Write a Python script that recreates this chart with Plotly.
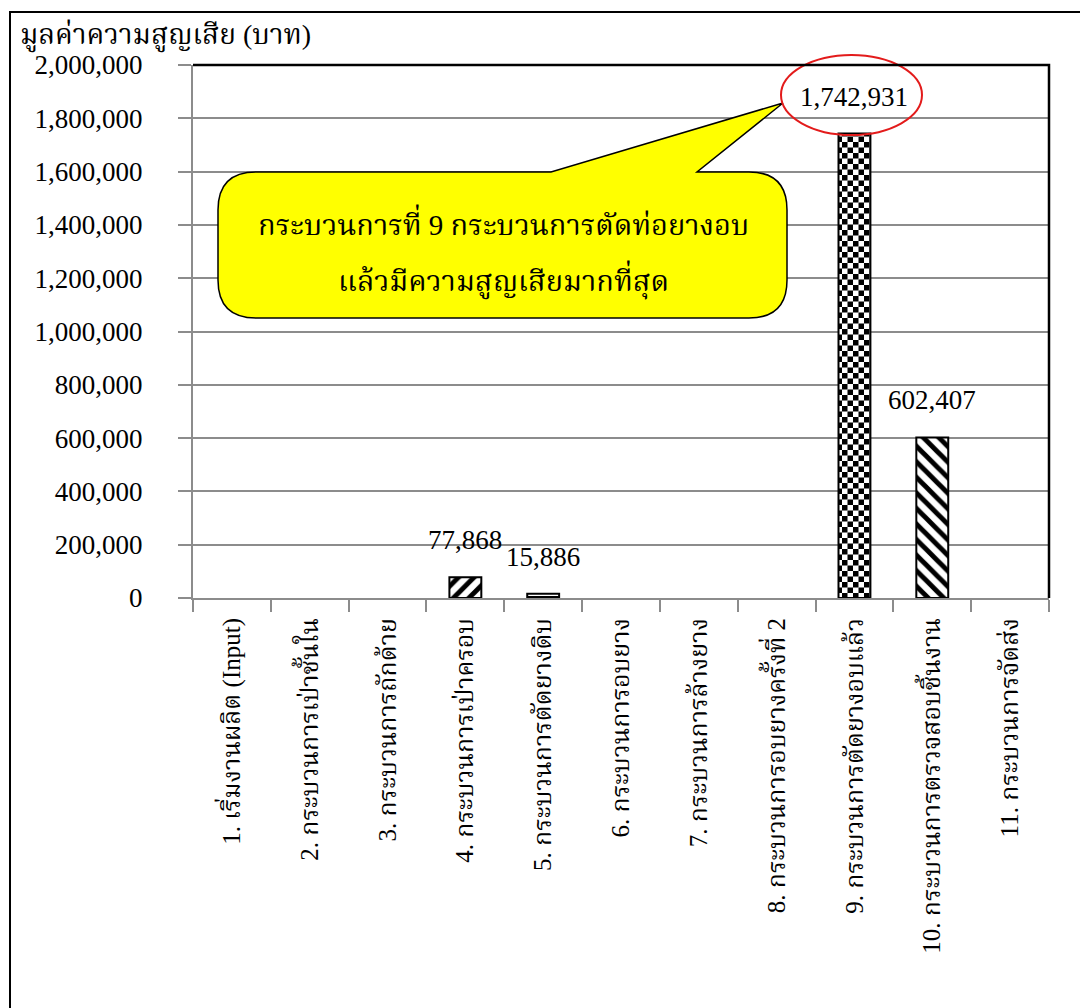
import plotly.graph_objects as go

# Loss value per production step (baht)
categories = [
    "1. เริ่มงานผลิต (Input)",
    "2. กระบวนการเป่าชั้นใน",
    "3. กระบวนการถักด้าย",
    "4. กระบวนการเป่าครอบ",
    "5. กระบวนการตัดยางดิบ",
    "6. กระบวนการอบยาง",
    "7. กระบวนการล้างยาง",
    "8. กระบวนการอบยางครั้งที่ 2",
    "9. กระบวนการตัดยางอบแล้ว",
    "10. กระบวนการตรวจสอบชิ้นงาน",
    "11. กระบวนการจัดส่ง",
]
loss_values = [0, 0, 0, 77868, 15886, 0, 0, 0, 1742931, 602407, 0]
# fill texture of each bar ("checker" is built in the page script below)
bar_patterns = ["", "", "", "/", "-", "", "", "", "checker", "\\", ""]

y_ticks = list(range(0, 2000001, 200000))
y_title = "มูลค่าความสูญเสีย (บาท)"
callout_lines = ["กระบวนการที่ 9 กระบวนการตัดท่อยางอบ", "แล้วมีความสูญเสียมากที่สุด"]

W, H = 1080, 1008
ML, MR, MT, MB = 193, 31, 65, 410
PW, PH = W - ML - MR, H - MT - MB

SERIF = "Liberation Serif, Times New Roman, Noto Serif Thai, Norasi, serif"
GRID = "#8c8c8c"


def px(x):
    return (x - ML) / PW


def py(y):
    return (H - MB - y) / PH


plotly_shapes = [("+" if p == "checker" else p) for p in bar_patterns]
# zero-loss steps get no bar at all
bar_heights = [v if v > 0 else None for v in loss_values]

fig = go.Figure(
    go.Bar(
        x=categories,
        y=bar_heights,
        width=0.41,
        marker=dict(
            color="white",
            line=dict(color="black", width=2),
            pattern=dict(
                shape=plotly_shapes,
                fgcolor="black",
                bgcolor="white",
                fgopacity=1,
                size=11,
                solidity=0.45,
            ),
        ),
        hoverinfo="x+y",
    )
)

# value labels above the non-zero bars
for cat, val in zip(categories, loss_values):
    if val > 0:
        fig.add_annotation(
            x=cat, y=val, text=f"{val:,}", showarrow=False,
            yanchor="middle", yshift=37,
            font=dict(family=SERIF, size=27, color="black"),
        )

# speech-bubble callout
L, R, T, B, r = 218, 787, 172, 318, 38
b1, b2, tip = 551, 697, (783, 103)
pts = [
    ("M", [(L + r, T)]), ("L", [(b1, T)]), ("L", [tip]), ("L", [(b2, T)]),
    ("L", [(R - r, T)]), ("Q", [(R, T), (R, T + r)]), ("L", [(R, B - r)]),
    ("Q", [(R, B), (R - r, B)]), ("L", [(L + r, B)]), ("Q", [(L, B), (L, B - r)]),
    ("L", [(L, T + r)]), ("Q", [(L, T), (L + r, T)]),
]
path = " ".join(cmd + " ".join(f"{px(a):.5f},{py(b):.5f}" for a, b in xy) for cmd, xy in pts) + " Z"
fig.add_shape(type="path", path=path, xref="paper", yref="paper",
              fillcolor="#ffff00", line=dict(color="black", width=1.5), layer="above")
for txt, yc in zip(callout_lines, [222, 280]):
    fig.add_annotation(x=px(503), y=py(yc), xref="paper", yref="paper", text=txt,
                       showarrow=False, xanchor="center", yanchor="middle",
                       font=dict(family=SERIF, size=29, color="black"))

# red ring around the largest value
fig.add_shape(type="circle", xref="paper", yref="paper",
              x0=px(781), x1=px(922), y0=py(135), y1=py(55),
              line=dict(color="#e31b1b", width=2), layer="above")

# black top/right border of the plot area
fig.add_shape(type="path", xref="paper", yref="paper", path="M0,1 L1,1 L1,0",
              line=dict(color="black", width=2.5), layer="above")
# outer chart frame
fig.add_shape(type="rect", xref="paper", yref="paper",
              x0=px(10), x1=px(1100), y0=py(1030), y1=py(12),
              line=dict(color="black", width=2), layer="above")

# y-axis title in the top-left corner
fig.add_annotation(x=px(18), y=py(36), xref="paper", yref="paper", text=y_title,
                   showarrow=False, xanchor="left", yanchor="middle",
                   font=dict(family=SERIF, size=28, color="black"))

fig.update_layout(
    width=W, height=H,
    margin=dict(l=ML, r=MR, t=MT, b=MB, pad=0),
    paper_bgcolor="white", plot_bgcolor="white",
    showlegend=False, bargap=0.59,
    font=dict(family=SERIF, color="black"),
)
fig.update_xaxes(
    type="category", showline=True, linecolor=GRID, linewidth=2,
    showgrid=False, ticks="outside", tickson="boundaries", ticklen=12,
    tickcolor=GRID, tickwidth=2, tickangle=-90, ticklabelstandoff=8,
    tickfont=dict(family=SERIF, size=25, color="black"),
)
fig.update_yaxes(
    range=[0, 2000000], tickvals=y_ticks, tickformat=",d",
    showline=True, linecolor=GRID, linewidth=2,
    showgrid=True, gridcolor=GRID, gridwidth=2, zeroline=False,
    ticks="outside", ticklen=13, tickcolor=GRID, tickwidth=2,
    ticklabelstandoff=30,
    tickfont=dict(family=SERIF, size=27, color="black"),
)

checker_idx = [i for i, p in enumerate(bar_patterns) if p == "checker"]
post = """
var gd = document.getElementById('{plot_id}');
var IDX = %s;
function checker() {
  var svgNS = 'http://www.w3.org/2000/svg';
  var defs = gd.querySelector('svg.main-svg defs');
  if (!document.getElementById('chk-pat')) {
    var pat = document.createElementNS(svgNS, 'pattern');
    pat.setAttribute('id', 'chk-pat');
    pat.setAttribute('patternUnits', 'userSpaceOnUse');
    pat.setAttribute('width', 11); pat.setAttribute('height', 11);
    var bg = document.createElementNS(svgNS, 'rect');
    bg.setAttribute('width', 11); bg.setAttribute('height', 11); bg.setAttribute('fill', 'white');
    pat.appendChild(bg);
    [[0, 0], [5.5, 5.5]].forEach(function (o) {
      var c = document.createElementNS(svgNS, 'rect');
      c.setAttribute('x', o[0]); c.setAttribute('y', o[1]);
      c.setAttribute('width', 5.5); c.setAttribute('height', 5.5); c.setAttribute('fill', 'black');
      pat.appendChild(c);
    });
    defs.appendChild(pat);
  }
  var paths = gd.querySelectorAll('.barlayer .trace .point path');
  IDX.forEach(function (i) { if (paths[i]) paths[i].style.fill = 'url(#chk-pat)'; });
}
checker();
gd.on('plotly_afterplot', checker);
""" % checker_idx

fig.write_html("out.html", post_script=post)
